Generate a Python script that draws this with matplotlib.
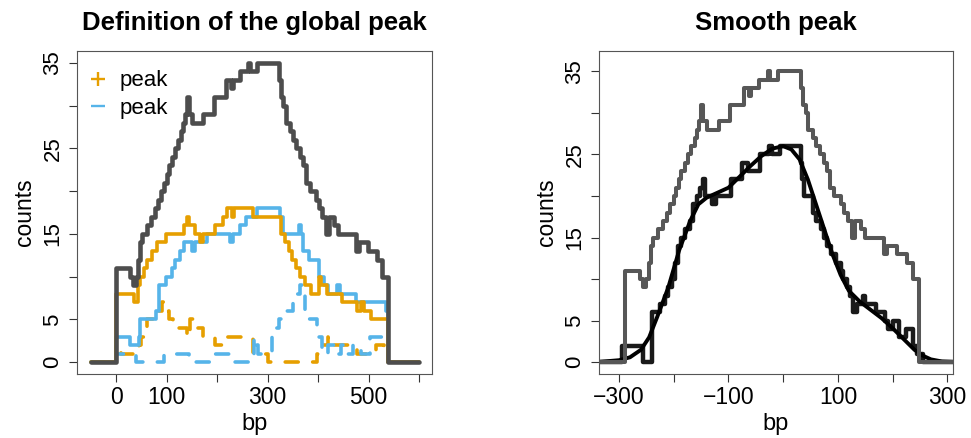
import matplotlib
matplotlib.use('Agg')
import matplotlib.pyplot as plt
from matplotlib.lines import Line2D

plt.rcParams['font.family'] = ['Liberation Sans', 'DejaVu Sans']

ORANGE = '#E69F00'
BLUE = '#56B4E9'
DARK = '#4D4D4D'

# ---- left panel: step breakpoints (bp, counts), drawn as steps-post ----
total_bp = [-50, 0, 28, 33, 40, 44, 48, 52, 62, 70, 78, 84, 90, 95, 100, 104, 110, 116,
            122, 128, 132, 137, 140, 144, 150, 172, 193, 218, 228, 232, 245, 262, 266,
            280, 323, 327, 331, 336, 344, 350, 357, 364, 370, 376, 383, 395, 402, 408,
            412, 415, 422, 432, 440, 475, 480, 498, 516, 527, 539, 600]
total_cnt = [0, 11, 10, 9, 10, 12, 14, 15, 16, 17, 18, 19, 20, 21, 22, 23, 24, 25,
             26, 27, 28, 29, 31, 29, 28, 29, 31, 33, 32, 33, 34, 35, 34,
             35, 33, 31, 30, 28, 27, 26, 25, 24, 23, 21, 20, 19, 18, 17,
             17, 15, 17, 16, 15, 13, 14, 13, 12, 10, 0, 0]

plus_bp = [-50, 0, 35, 43, 48, 55, 62, 72, 82, 98, 135, 141, 145, 156, 166, 172, 195,
           212, 220, 230, 234, 272, 327, 335, 342, 349, 356, 365, 375, 385, 402, 406,
           418, 448, 476, 484, 490, 505, 538, 600]
plus_cnt = [0, 8, 7, 9, 10, 11, 12, 13, 14, 15, 16, 17, 16, 15, 14, 15, 16,
            17, 18, 17, 18, 17, 15, 14, 13, 12, 11, 10, 9, 8, 10, 9,
            8, 7, 6, 7, 6, 5, 0, 0]

minus_bp = [-50, 0, 28, 45, 48, 80, 86, 98, 110, 117, 127, 134, 150, 157, 180, 225,
            232, 246, 258, 280, 325, 330, 363, 367, 370, 382, 402, 411, 420, 437, 443,
            475, 535, 538, 600]
minus_cnt = [0, 3, 2, 3, 5, 6, 9, 10, 11, 12, 13, 14, 13, 14, 15, 14,
             15, 16, 17, 18, 17, 15, 16, 15, 13, 12, 10, 9, 8, 9, 8,
             7, 6, 0, 0]

plus_dash_bp = [-50, 0, 10, 45, 50, 56, 62, 75, 92, 97, 104, 112, 140, 146, 152, 172,
                195, 212, 272, 300, 398, 406, 420, 428, 476, 514, 530, 539, 600]
plus_dash_cnt = [0, 2, 1, 2, 3, 4, 5, 6, 7, 6, 5, 4, 3, 5, 4, 3,
                 2, 3, 1, 0, 1, 2, 3, 2, 1, 2, 1, 0, 0]

minus_dash_bp = [-50, 0, 40, 95, 145, 190, 232, 274, 277, 281, 308, 316, 322, 328, 350,
                 358, 364, 370, 374, 380, 398, 402, 408, 420, 432, 445, 457, 470, 485,
                 503, 530, 539, 600]
minus_dash_cnt = [0, 1, 0, 1, 0, 1, 0, 3, 2, 1, 3, 4, 5, 6, 7,
                  8, 9, 8, 6, 5, 4, 3, 1, 2, 1, 2, 1, 2, 1,
                  3, 2, 0, 0]

# ---- right panel ----
centre_shift = -290   # the global peak re-centred around its summit

shifted_bp = [-400, -294, -256, -240, -225, -216, -210, -204, -198, -192, -186, -180,
              -171, -165, -158, -152, -146, -143, -131, -122, -96, -75, -64, -43, -26,
              -20, -6, 32, 35, 38, 55, 60, 70, 75, 80, 88, 97, 105, 110, 117, 122, 128,
              134, 146, 150, 170, 186, 192, 200, 212, 225, 237, 245, 255, 400]
shifted_cnt = [0, 2, 0, 6, 7, 8, 9, 10, 12, 14, 15, 16,
               17, 19, 20, 21, 22, 20, 19, 20, 22, 24, 23, 25, 26,
               25, 26, 24, 22, 20, 18, 17, 16, 15, 14, 13, 12, 11, 10, 9, 8, 6,
               7, 8, 7, 6, 5, 4, 5, 3, 4, 2, 1, 0, 0]

smooth_bp = [-400, -336, -300, -280, -260, -245, -230, -210, -190, -170, -155, -140,
             -120, -100, -80, -60, -40, -20, 0, 15, 30, 45, 60, 75, 90, 105, 120, 140,
             160, 180, 200, 220, 240, 255, 270, 290, 320, 400]
smooth_cnt = [0, 0.05, 0.25, 0.6, 1.5, 3, 5.5, 9, 13.5, 17, 19, 19.8,
              20.4, 21, 22.3, 23.6, 24.8, 25.7, 26, 25.6, 24.4, 22, 19, 16, 13, 10.5, 8.6, 7.3,
              6.3, 5.3, 4.1, 2.8, 1.5, 0.8, 0.35, 0.1, 0.02, 0]

yticks = [0, 5, 10, 15, 20, 25, 30, 35]
ytick_labels = ['0', '5', '', '15', '', '25', '', '35']
left_xticks = [0, 100, 200, 300, 400, 500, 600]
left_xlabels = ['0', '100', '', '300', '', '500', '']
right_xticks = [-300, -200, -100, 0, 100, 200, 300]
right_xlabels = ['\u2212300', '', '\u2212100', '', '100', '', '300']


def style_axes(ax, xticks, xlabels):
    ax.set_xticks(xticks)
    ax.set_xticklabels(xlabels)
    ax.set_yticks(yticks)
    ax.set_yticklabels(ytick_labels, rotation=90, va='center')
    ax.tick_params(axis='x', length=5.8, width=0.8, pad=3, labelsize=16.5, color='#333333')
    ax.tick_params(axis='y', length=5.8, width=0.8, pad=4, labelsize=16, color='#333333')
    for sp in ax.spines.values():
        sp.set_linewidth(0.8)
        sp.set_color('#555555')
    ax.set_xlabel('bp', fontsize=17)
    ax.xaxis.set_label_coords(0.5, -0.121)
    ax.set_ylabel('counts', fontsize=16.5)
    ax.yaxis.set_label_coords(-0.115, 0.5)


def step(ax, x, y, color, lw, dashed=False):
    kw = dict(drawstyle='steps-post', color=color, linewidth=lw,
              solid_joinstyle='round', solid_capstyle='round')
    if dashed:
        kw.update(linestyle=(0, (3.6, 4.0)), dash_capstyle='round', dash_joinstyle='round')
    ax.plot(x, y, **kw)


fig = plt.figure(figsize=(9.71, 4.38), dpi=100)
ax1 = fig.add_axes([0.0793, 0.1461, 0.3656, 0.7374])
ax2 = fig.add_axes([0.6169, 0.1461, 0.3646, 0.7374])

# --- Panel 1: definition of the global peak ---
step(ax1, plus_dash_bp, plus_dash_cnt, ORANGE, 2.6, dashed=True)
step(ax1, minus_dash_bp, minus_dash_cnt, BLUE, 2.6, dashed=True)
step(ax1, minus_bp, minus_cnt, BLUE, 2.6)
step(ax1, plus_bp, plus_cnt, ORANGE, 2.6)
step(ax1, total_bp, total_cnt, DARK, 3.3)
ax1.set_xlim(-77.2, 625.4)
ax1.set_ylim(-1.37, 36.37)
style_axes(ax1, left_xticks, left_xlabels)
ax1.set_title('Definition of the global peak', fontsize=18.5, fontweight='bold', pad=15)

handles = [Line2D([], [], color=ORANGE, marker='+', linestyle='None', markersize=10, markeredgewidth=1.7),
           Line2D([], [], color=BLUE, marker='_', linestyle='None', markersize=10, markeredgewidth=1.7)]
ax1.legend(handles, ['peak', 'peak'], loc='upper left', bbox_to_anchor=(0.029, 0.94),
           frameon=False, fontsize=16, handlelength=1.0, handletextpad=0.45,
           labelspacing=0.28, borderpad=0, borderaxespad=0)

# --- Panel 2: smooth peak ---
centred_bp = [b + centre_shift for b in total_bp]
step(ax2, shifted_bp, shifted_cnt, '#1A1A1A', 3.2)
ax2.plot(smooth_bp, smooth_cnt, color='black', linewidth=2.8, solid_capstyle='round')
step(ax2, centred_bp, total_cnt, '#575757', 2.9)
ax2.set_xlim(-336.6, 310.4)
ax2.set_ylim(-1.41, 37.44)
style_axes(ax2, right_xticks, right_xlabels)
ax2.set_title('Smooth peak', fontsize=18.5, fontweight='bold', pad=15)

fig.savefig('out.png', dpi=100)
